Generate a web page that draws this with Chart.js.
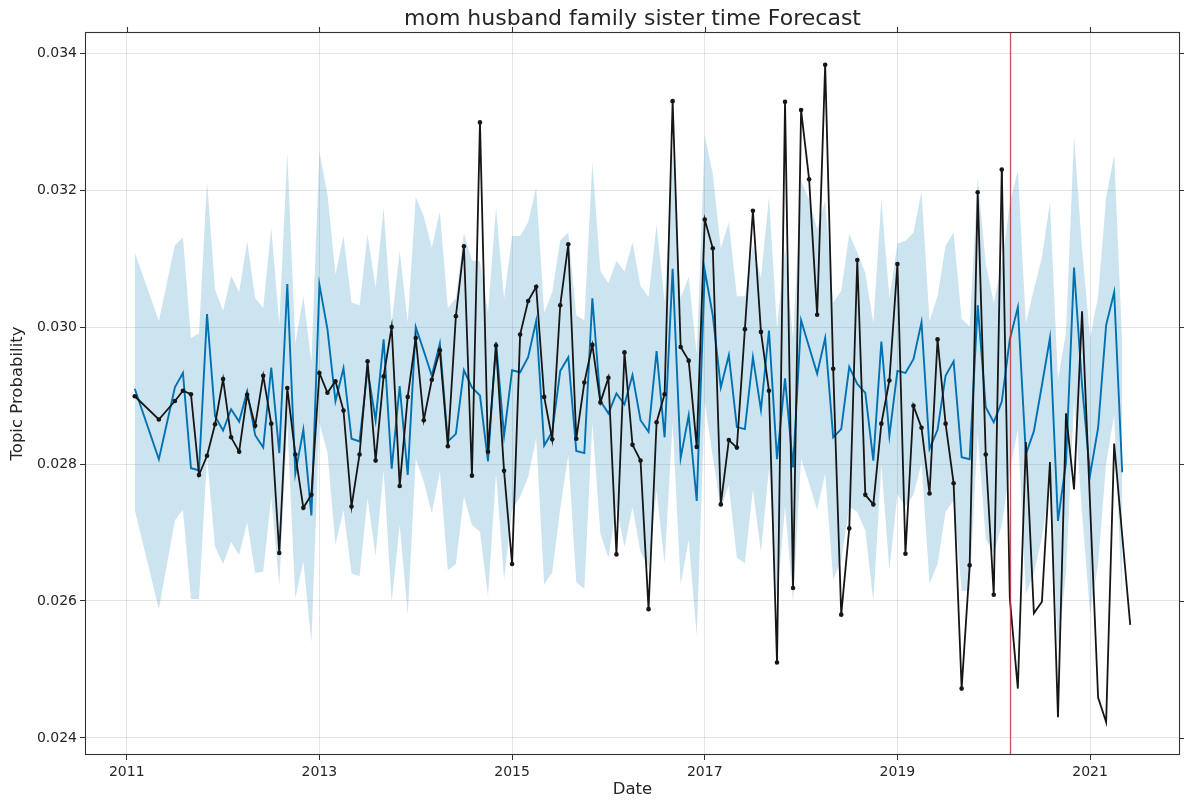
<!DOCTYPE html>
<html>
<head>
<meta charset="utf-8">
<title>mom husband family sister time Forecast</title>
<script src="https://cdn.jsdelivr.net/npm/chart.js@4.4.1/dist/chart.umd.min.js"></script>
<style>
  html, body { margin: 0; padding: 0; background: #fff; }
  #chart { display: block; }
</style>
</head>
<body>
<canvas id="chart" width="1184" height="802"></canvas>
<script>
const TITLE = "mom husband family sister time Forecast";
const X_LABEL = "Date";
const Y_LABEL = "Topic Probability";
const CUTOFF = "2020-03";
const X_TICKS = [2011, 2013, 2015, 2017, 2019, 2021];
const Y_TICKS = [0.024, 0.026, 0.028, 0.030, 0.032, 0.034];

const DATES = [
  "2011-02","2011-05","2011-07","2011-08","2011-09","2011-10","2011-11","2011-12",
  "2012-01","2012-02","2012-03","2012-04","2012-05","2012-06","2012-07","2012-08","2012-09","2012-10","2012-11","2012-12",
  "2013-01","2013-02","2013-03","2013-04","2013-05","2013-06","2013-07","2013-08","2013-09","2013-10","2013-11","2013-12",
  "2014-01","2014-02","2014-03","2014-04","2014-05","2014-06","2014-07","2014-08","2014-09","2014-10","2014-11","2014-12",
  "2015-01","2015-02","2015-03","2015-04","2015-05","2015-06","2015-07","2015-08","2015-09","2015-10","2015-11","2015-12",
  "2016-01","2016-02","2016-03","2016-04","2016-05","2016-06","2016-07","2016-08","2016-09","2016-10","2016-11","2016-12",
  "2017-01","2017-02","2017-03","2017-04","2017-05","2017-06","2017-07","2017-08","2017-09","2017-10","2017-11","2017-12",
  "2018-01","2018-02","2018-03","2018-04","2018-05","2018-06","2018-07","2018-08","2018-09","2018-10","2018-11","2018-12",
  "2019-01","2019-02","2019-03","2019-04","2019-05","2019-06","2019-07","2019-08","2019-09","2019-10","2019-11","2019-12",
  "2020-01","2020-02","2020-03","2020-04","2020-05","2020-06","2020-07","2020-08","2020-09","2020-10","2020-11","2020-12",
  "2021-01","2021-02","2021-03","2021-04","2021-05","2021-06"
];

// observed topic probability (black)
const ACTUAL = [
  0.02899, 0.02865, 0.02892, 0.02907, 0.02902, 0.02784, 0.02812, 0.02858,
  0.02924, 0.02839, 0.02818, 0.02901, 0.02856, 0.02929, 0.02859, 0.02670, 0.02911, 0.02814, 0.02736, 0.02755,
  0.02933, 0.02904, 0.02921, 0.02878, 0.02738, 0.02814, 0.02950, 0.02805, 0.02928, 0.03000, 0.02768, 0.02898,
  0.02984, 0.02864, 0.02923, 0.02966, 0.02826, 0.03016, 0.03118, 0.02783, 0.03299, 0.02818, 0.02973, 0.02790,
  0.02654, 0.02989, 0.03038, 0.03059, 0.02898, 0.02836, 0.03032, 0.03121, 0.02837, 0.02919, 0.02974, 0.02890,
  0.02926, 0.02668, 0.02963, 0.02828, 0.02805, 0.02588, 0.02861, 0.02902, 0.03330, 0.02971, 0.02951, 0.02825,
  0.03157, 0.03115, 0.02741, 0.02835, 0.02824, 0.02997, 0.03170, 0.02993, 0.02907, 0.02510, 0.03329, 0.02619,
  0.03317, 0.03216, 0.03018, 0.03383, 0.02939, 0.02580, 0.02706, 0.03098, 0.02755, 0.02741, 0.02859, 0.02922,
  0.03092, 0.02669, 0.02885, 0.02853, 0.02757, 0.02982, 0.02859, 0.02772, 0.02472, 0.02652, 0.03197, 0.02814,
  0.02609, 0.03230, 0.02604, 0.02472, 0.02832, 0.02582, 0.02599, 0.02803, 0.02430, 0.02874, 0.02763, 0.03023,
  0.02740, 0.02459, 0.02423, 0.02830, 0.02696, 0.02565
];

// forecast (blue) and its interval
const YHAT = [
  0.02910, 0.02807, 0.02912, 0.02933, 0.02794, 0.02791, 0.03019, 0.02870,
  0.02849, 0.02880, 0.02862, 0.02906, 0.02842, 0.02824, 0.02941, 0.02816, 0.03063, 0.02786, 0.02850, 0.02725,
  0.03062, 0.02997, 0.02892, 0.02940, 0.02837, 0.02833, 0.02938, 0.02864, 0.02982, 0.02793, 0.02914, 0.02784,
  0.03000, 0.02965, 0.02929, 0.02976, 0.02833, 0.02844, 0.02937, 0.02912, 0.02900, 0.02804, 0.02978, 0.02841,
  0.02937, 0.02934, 0.02956, 0.03009, 0.02827, 0.02847, 0.02936, 0.02956, 0.02819, 0.02816, 0.03042, 0.02892,
  0.02874, 0.02903, 0.02887, 0.02930, 0.02864, 0.02847, 0.02965, 0.02839, 0.03085, 0.02809, 0.02871, 0.02746,
  0.03083, 0.03017, 0.02912, 0.02959, 0.02854, 0.02851, 0.02956, 0.02879, 0.02995, 0.02807, 0.02925, 0.02795,
  0.03010, 0.02971, 0.02932, 0.02984, 0.02839, 0.02851, 0.02942, 0.02917, 0.02904, 0.02805, 0.02979, 0.02841,
  0.02936, 0.02933, 0.02953, 0.03007, 0.02822, 0.02850, 0.02929, 0.02950, 0.02810, 0.02807, 0.03032, 0.02883,
  0.02861, 0.02891, 0.02982, 0.03029, 0.02814, 0.02848, 0.02915, 0.02984, 0.02717, 0.02802, 0.03087, 0.02915,
  0.02784, 0.02853, 0.03003, 0.03051, 0.02788
];

const YHAT_UPPER = [
  0.03109, 0.03009, 0.03120, 0.03131, 0.02984, 0.02991, 0.03213, 0.03055,
  0.03024, 0.03075, 0.03051, 0.03125, 0.03042, 0.03028, 0.03145, 0.03004, 0.03254, 0.02976, 0.03045, 0.02949,
  0.03256, 0.03194, 0.03077, 0.03133, 0.03036, 0.03032, 0.03135, 0.03058, 0.03174, 0.03006, 0.03111, 0.03007,
  0.03190, 0.03162, 0.03116, 0.03169, 0.03028, 0.03042, 0.03137, 0.03097, 0.03096, 0.03021, 0.03175, 0.03041,
  0.03133, 0.03133, 0.03153, 0.03204, 0.03021, 0.03051, 0.03127, 0.03138, 0.03017, 0.03010, 0.03241, 0.03082,
  0.03064, 0.03097, 0.03081, 0.03124, 0.03060, 0.03044, 0.03150, 0.03036, 0.03260, 0.03043, 0.03073, 0.02960,
  0.03280, 0.03224, 0.03115, 0.03153, 0.03045, 0.03045, 0.03120, 0.03072, 0.03190, 0.02999, 0.03116, 0.02982,
  0.03214, 0.03186, 0.03143, 0.03185, 0.03036, 0.03053, 0.03136, 0.03109, 0.03079, 0.03006, 0.03187, 0.03042,
  0.03122, 0.03126, 0.03138, 0.03198, 0.03009, 0.03045, 0.03119, 0.03138, 0.03012, 0.03001, 0.03218, 0.03094,
  0.03035, 0.03092, 0.03180, 0.03229, 0.03006, 0.03055, 0.03102, 0.03182, 0.02923, 0.02992, 0.03279, 0.03114,
  0.02984, 0.03045, 0.03190, 0.03251, 0.02977
];

const YHAT_LOWER = [
  0.02733, 0.02588, 0.02718, 0.02733, 0.02603, 0.02603, 0.02810, 0.02679,
  0.02654, 0.02686, 0.02667, 0.02715, 0.02641, 0.02643, 0.02752, 0.02622, 0.02860, 0.02604, 0.02658, 0.02539,
  0.02860, 0.02817, 0.02682, 0.02733, 0.02640, 0.02636, 0.02750, 0.02666, 0.02791, 0.02598, 0.02711, 0.02580,
  0.02808, 0.02774, 0.02728, 0.02789, 0.02645, 0.02654, 0.02753, 0.02711, 0.02701, 0.02607, 0.02786, 0.02631,
  0.02733, 0.02752, 0.02781, 0.02838, 0.02624, 0.02642, 0.02735, 0.02813, 0.02627, 0.02618, 0.02860, 0.02698,
  0.02663, 0.02738, 0.02679, 0.02737, 0.02671, 0.02649, 0.02761, 0.02654, 0.02860, 0.02624, 0.02689, 0.02549,
  0.02891, 0.02810, 0.02735, 0.02769, 0.02663, 0.02655, 0.02763, 0.02671, 0.02794, 0.02601, 0.02738, 0.02598,
  0.02808, 0.02772, 0.02733, 0.02786, 0.02631, 0.02659, 0.02738, 0.02730, 0.02703, 0.02600, 0.02799, 0.02645,
  0.02756, 0.02738, 0.02755, 0.02801, 0.02625, 0.02654, 0.02730, 0.02747, 0.02615, 0.02615, 0.02845, 0.02691,
  0.02669, 0.02711, 0.02791, 0.02850, 0.02610, 0.02640, 0.02693, 0.02772, 0.02530, 0.02640, 0.02893, 0.02728,
  0.02581, 0.02654, 0.02801, 0.02872, 0.02593
];

const BLUE = "#0072B2";
const BAND = "rgba(0, 114, 178, 0.2)";
const INK = "#262626";

const toYear = (d) => {
  const [y, m] = d.split("-").map(Number);
  return y + (m - 1) / 12;
};
const points = (vals, offset = 0) => vals.map((v, i) => ({ x: toYear(DATES[i + offset]), y: v }));

// history gets markers, the held-out part after the cutoff does not
const cutIdx = DATES.indexOf(CUTOFF);
const history = points(ACTUAL.slice(0, cutIdx));
const holdout = points(ACTUAL.slice(cutIdx - 1), cutIdx - 1);

// matplotlib-style 5% margins
const xs = DATES.map(toYear);
const xPad = (xs[xs.length - 1] - xs[0]) * 0.05;
const allY = ACTUAL.concat(YHAT_UPPER, YHAT_LOWER);
const yLo = Math.min(...allY), yHi = Math.max(...allY);
const yPad = (yHi - yLo) * 0.05;

const framePlugin = {
  id: "frame",
  afterDatasetsDraw(chart) {
    const { ctx, chartArea: a, scales: { x } } = chart;
    const cx = Math.round(x.getPixelForValue(toYear(CUTOFF))) + 0.5;
    ctx.save();
    ctx.strokeStyle = "rgba(196, 50, 50, 0.85)";
    ctx.lineWidth = 1.3;
    ctx.beginPath();
    ctx.moveTo(cx, a.top);
    ctx.lineTo(cx, a.bottom);
    ctx.stroke();
    ctx.restore();
  },
  afterDraw(chart) {
    const { ctx, chartArea: a, scales: { x, y } } = chart;
    ctx.save();
    ctx.strokeStyle = "#333";
    ctx.lineWidth = 1.1;
    ctx.strokeRect(a.left + 0.5, a.top + 0.5, a.width - 1, a.height - 1);
    ctx.beginPath();
    for (const t of X_TICKS) {
      const px = Math.round(x.getPixelForValue(t)) + 0.5;
      ctx.moveTo(px, a.top);
      ctx.lineTo(px, a.top - 5);
    }
    for (const t of Y_TICKS) {
      const py = Math.round(y.getPixelForValue(t)) + 0.5;
      ctx.moveTo(a.right, py);
      ctx.lineTo(a.right + 5, py);
    }
    ctx.stroke();

    ctx.fillStyle = INK;
    ctx.textAlign = "center";
    ctx.textBaseline = "middle";
    const midX = (a.left + a.right) / 2;
    ctx.font = "22px 'DejaVu Sans'";
    ctx.fillText(TITLE, midX, 19);
    ctx.font = "16.5px 'DejaVu Sans'";
    ctx.fillText(X_LABEL, midX, 790);
    ctx.translate(18, (a.top + a.bottom) / 2);
    ctx.rotate(-Math.PI / 2);
    ctx.fillText(Y_LABEL, 0, 0);
    ctx.restore();
  }
};

Chart.defaults.font.family = "'DejaVu Sans', sans-serif";
Chart.defaults.color = INK;

new Chart(document.getElementById("chart"), {
  type: "line",
  data: {
    datasets: [
      {
        label: "actual",
        data: history,
        borderColor: "#161616",
        borderWidth: 1.8,
        pointRadius: 2.3,
        pointBackgroundColor: "#161616",
        pointBorderWidth: 0,
        order: 0
      },
      {
        label: "actual (after cutoff)",
        data: holdout,
        borderColor: "#161616",
        borderWidth: 1.8,
        pointRadius: 0,
        order: 1
      },
      {
        label: "yhat",
        data: points(YHAT),
        borderColor: BLUE,
        borderWidth: 1.9,
        pointRadius: 0,
        order: 2
      },
      {
        label: "yhat_upper",
        data: points(YHAT_UPPER),
        borderColor: "rgba(0,0,0,0)",
        borderWidth: 0,
        pointRadius: 0,
        backgroundColor: BAND,
        fill: "+1",
        order: 3
      },
      {
        label: "yhat_lower",
        data: points(YHAT_LOWER),
        borderColor: "rgba(0,0,0,0)",
        borderWidth: 0,
        pointRadius: 0,
        fill: false,
        order: 4
      }
    ]
  },
  options: {
    responsive: false,
    animation: false,
    devicePixelRatio: 1,
    layout: { padding: { top: 32, right: 4, left: 0, bottom: 0 } },
    elements: { line: { tension: 0 } },
    plugins: {
      legend: { display: false },
      tooltip: { enabled: false },
      title: { display: false }
    },
    scales: {
      x: {
        type: "linear",
        min: xs[0] - xPad,
        max: xs[xs.length - 1] + xPad,
        afterBuildTicks: (scale) => { scale.ticks = X_TICKS.map(v => ({ value: v })); },
        afterFit: (scale) => { scale.height = 47; },
        ticks: {
          callback: (v) => String(v),
          font: { size: 14 },
          color: INK,
          padding: 4,
          maxRotation: 0
        },
        grid: {
          color: "rgba(0,0,0,0.1)",
          tickColor: "#333",
          tickLength: 5,
          lineWidth: 1
        },
        border: { display: false }
      },
      y: {
        type: "linear",
        min: yLo - yPad,
        max: yHi + yPad,
        afterBuildTicks: (scale) => { scale.ticks = Y_TICKS.map(v => ({ value: v })); },
        afterFit: (scale) => { scale.width = 85; },
        ticks: {
          callback: (v) => v.toFixed(3),
          font: { size: 14 },
          color: INK,
          padding: 3
        },
        grid: {
          color: "rgba(0,0,0,0.1)",
          tickColor: "#333",
          tickLength: 5,
          lineWidth: 1
        },
        border: { display: false }
      }
    }
  },
  plugins: [framePlugin]
});
</script>
</body>
</html>
